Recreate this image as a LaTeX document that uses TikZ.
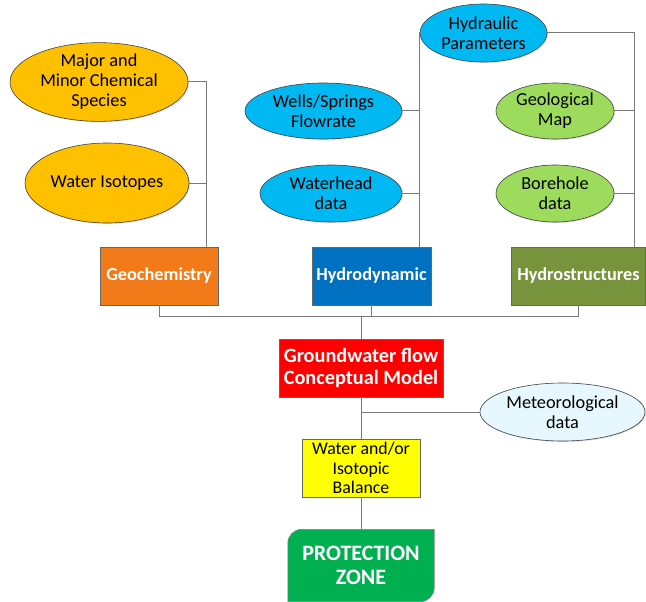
\documentclass[tikz,border=0pt]{standalone}
\usepackage{fontspec}
\setmainfont{Carlito}
\usetikzlibrary{shapes.geometric,shadows,calc}
\definecolor{cgold}{HTML}{FFC000}
\definecolor{csky}{HTML}{00B9F2}
\definecolor{clgreen}{HTML}{9CDB5C}
\definecolor{corange}{HTML}{F27A18}
\definecolor{cblue}{HTML}{0070C0}
\definecolor{colive}{HTML}{77933C}
\definecolor{cred}{HTML}{FF0000}
\definecolor{cyel}{HTML}{FFFF00}
\definecolor{cgreen}{HTML}{00B050}
\definecolor{cmet}{HTML}{E6F7FD}
\definecolor{cline}{HTML}{7A7A7A}
\tikzset{
  oval/.style={ellipse, draw=black!75, line width=0.6pt, inner sep=0pt, align=center,
    font=\fontsize{18.3}{20}\selectfont, text=black,
    drop shadow={opacity=0.25, shadow xshift=1pt, shadow yshift=-1pt}},
  cbox/.style={rectangle, draw=black!60, line width=0.6pt, inner sep=0pt, align=center,
    font=\fontsize{18.3}{20}\selectfont\bfseries, text=white},
  conn/.style={draw=cline, line width=1pt}
}
\begin{document}
\begin{tikzpicture}[x=1pt,y=1pt]
\useasboundingbox (0,0) rectangle (646,-602);
% ellipses
\node[oval, fill=cgold, minimum width=178, minimum height=70] (maj) at (99,-82) {Major and\\Minor Chemical\\Species};
\node[oval, fill=cgold, minimum width=164, minimum height=80] (iso) at (107,-183) {Water Isotopes};
\node[oval, fill=csky, minimum width=127, minimum height=58] (hp) at (483.5,-33) {Hydraulic\\Parameters};
\node[oval, fill=csky, minimum width=157, minimum height=56] (wells) at (323.5,-111) {Wells/Springs\\Flowrate};
\node[oval, fill=csky, minimum width=142, minimum height=57] (wh) at (331,-193.5) {Waterhead\\data};
\node[oval, fill=clgreen, minimum width=118, minimum height=56] (gm) at (555,-111) {Geological\\Map};
\node[oval, fill=clgreen, minimum width=118, minimum height=57] (bh) at (555,-193.5) {Borehole\\data};
\node[oval, fill=cmet, minimum width=165, minimum height=58] (met) at (562.5,-412) {Meteorological\\data};
% boxes
\node[cbox, fill=corange, minimum width=118, minimum height=58] (geo) at (159,-276) {Geochemistry};
\node[cbox, fill=cblue, minimum width=119, minimum height=58] (hyd) at (371.5,-276) {Hydrodynamic};
\node[cbox, fill=colive, minimum width=134, minimum height=58] (hs) at (578.5,-276) {Hydrostructures};
\node[cbox, fill=cred, font=\fontsize{20.3}{22}\selectfont\bfseries, minimum width=164, minimum height=58] (gw) at (361,-368) {Groundwater flow\\Conceptual Model};
\node[cbox, fill=cyel, text=black, font=\fontsize{17.8}{19.5}\selectfont, minimum width=118, minimum height=58] (wb) at (361,-468) {Water and/or\\Isotopic\\Balance};
\node[minimum width=146, minimum height=72, inner sep=0pt] (pz) at (361,-565.5) {};
\fill[cgreen, draw=black!50, line width=0.6pt]
  (pz.south west) -- ([yshift=-14]pz.north west) arc(180:90:14) -- (pz.north east)
  -- ([yshift=14]pz.south east) arc(0:-90:14) -- cycle;
\node[align=center, text=white, font=\fontsize{22}{24}\selectfont\bfseries] at (pz.center) {PROTECTION\\ZONE};
% join points
\coordinate (gj) at (206,-247);
\coordinate (hj) at (419.5,-247);
\coordinate (sj) at (634,-247);
\coordinate (bus) at (0,-316);
% connectors
\draw[conn] (maj.east) -| (gj);
\draw[conn] (iso.east) -- (iso.east -| gj);
\draw[conn] (hp.west) -| (hj);
\draw[conn] (wells.east) -- (wells.east -| hj);
\draw[conn] (wh.east) -- (wh.east -| hj);
\draw[conn] (hp.east) -| (sj);
\draw[conn] (gm.east) -- (gm.east -| sj);
\draw[conn] (bh.east) -- (bh.east -| sj);
\draw[conn] (geo.south) |- (bus -| hs.south) -- (hs.south);
\draw[conn] (hyd.south) -- (hyd.south |- bus);
\draw[conn] (gw.north) -- (gw.north |- bus);
\draw[conn] (gw.south) -- (wb.north);
\draw[conn] (met.west) -- (met.west -| gw.south);
\draw[conn] (wb.south) -- (pz.north);
\end{tikzpicture}
\end{document}
